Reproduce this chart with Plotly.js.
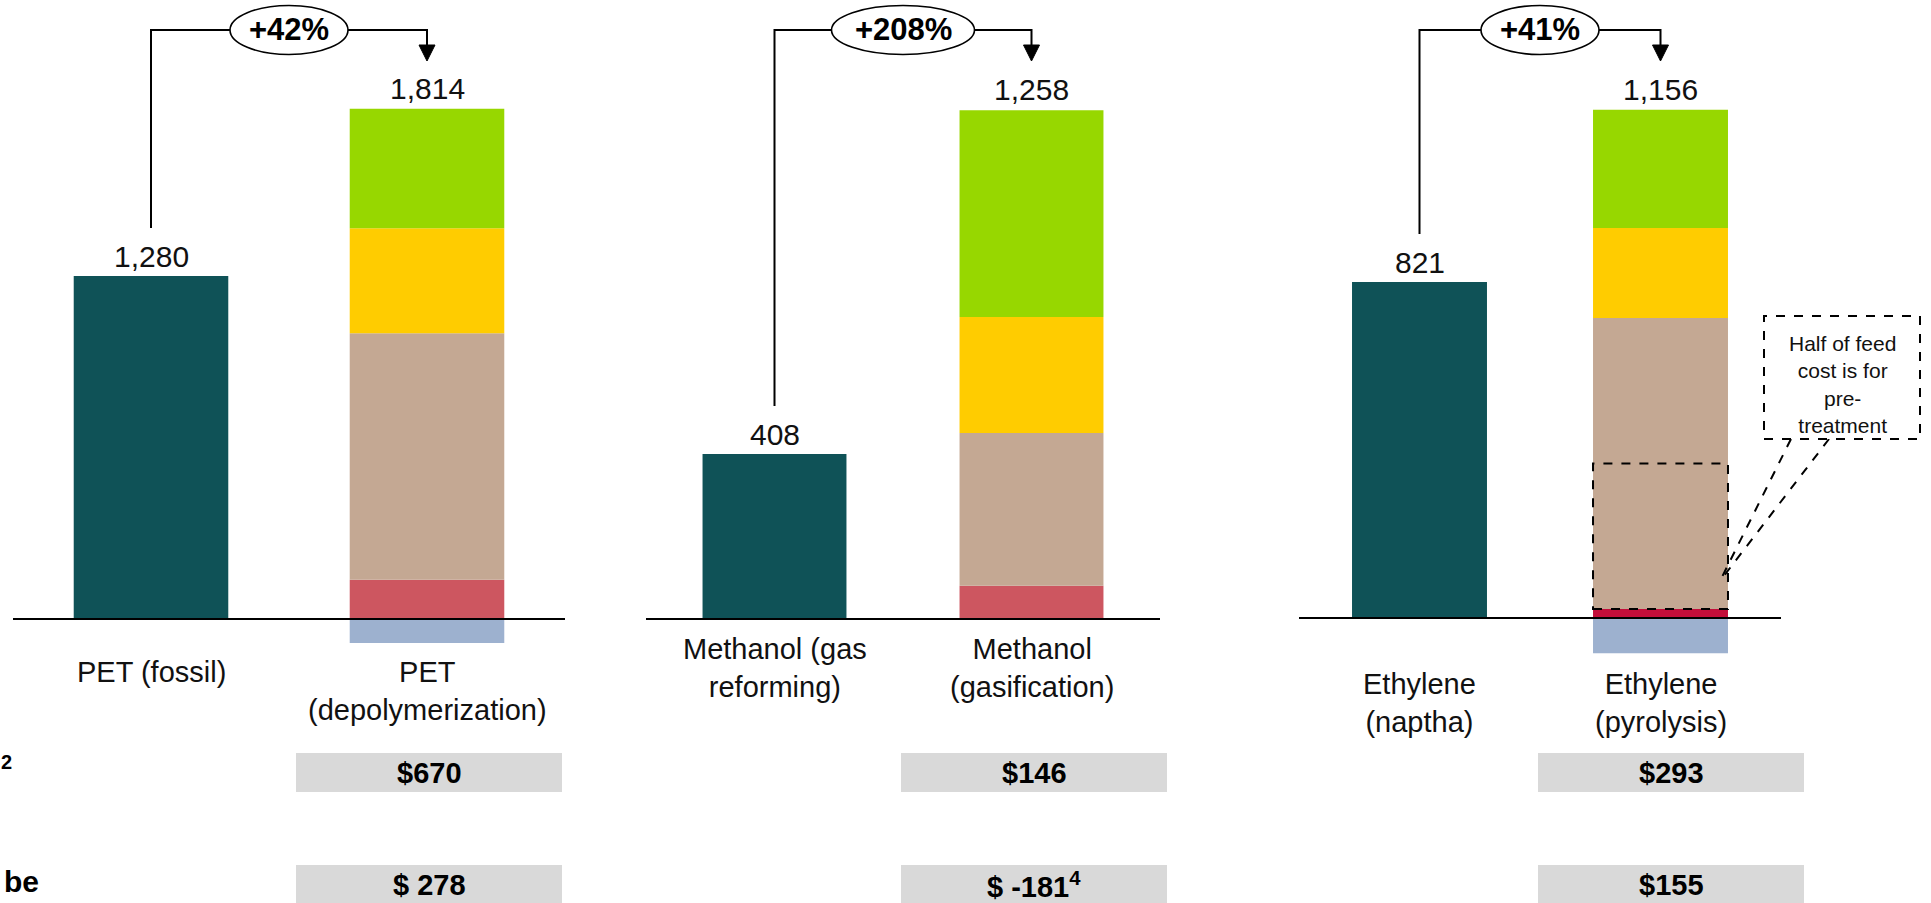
<!DOCTYPE html>
<html>
<head>
<meta charset="utf-8">
<script src="https://cdn.plot.ly/plotly-3.0.1.min.js"></script>
<style>
  html, body { margin: 0; padding: 0; background: #ffffff; overflow: hidden; }
  #chart { width: 1931px; height: 903px; }
</style>
</head>
<body>
<div id="chart"></div>
<script>
// ---------------- DATA ----------------
const categories = [
  ["PET (fossil)", "PET (depolymerization)"],
  ["Methanol (gas reforming)", "Methanol (gasification)"],
  ["Ethylene (naptha)", "Ethylene (pyrolysis)"]
];
const categoryLabels = [
  ["PET (fossil)", "PET<br>(depolymerization)"],
  ["Methanol (gas<br>reforming)", "Methanol<br>(gasification)"],
  ["Ethylene<br>(naptha)", "Ethylene<br>(pyrolysis)"]
];
const fossilCost     = [1280, 408, 821];
const recycledTotal  = [1814, 1258, 1156];
const energyCost     = [146, 82, 22];     // red (bottom)
const feedCost       = [920, 378, 711];   // tan
const opexCost       = [392, 287, 220];   // yellow
const capexCost      = [446, 511, 289];   // green (top)
const creditValue    = [-90, 0, -86];     // blue (negative)
const row1Labels = ["$670", "$146", "$293"];
const row2Labels = ["$ 278", "$ -181<sup>4</sup>", "$155"];
const calloutText = "Half of feed<br>cost is for<br>pre-<br>treatment";

// ---------------- STYLE / LAYOUT PARAMS ----------------
const W = 1931, H = 903;
const FONT = "Liberation Sans, Arial, sans-serif";
const colFossil = "#0F5257";
const colCapex = "#97D700";
const colOpex = "#FFCC00";
const colFeed = "#C4A893";
const colEnergy = ["#CD5660", "#CD5660", "#C20E3A"];
const colCredit = "#9DB1CF";
const barWidth = 0.56;

const domPx = [[13, 565], [646, 1160], [1299, 1781]];
const zeroPx = [619, 619, 618];
const pxPerUnit = [0.2680, 0.4044, 0.4092];
const plotTopPx = 100, plotBotPx = 690;
const labelFirstLinePx = [673, 650, 685];
const connectorTopPx = 30;
const boxCenterPx = [429, 1034, 1671];
const boxWidthPx = 266;
const boxRowsPx = [[753, 792], [865, 904]];

const px2x = px => px / W;
const px2y = py => 1 - py / H;
const axSuffix = p => (p === 0 ? "" : String(p + 1));
const unitPx = p => (domPx[p][1] - domPx[p][0]) / 2;
const catPx = (p, idx) => domPx[p][0] + (idx + 0.5) * unitPx(p);
const valPx = (p, v) => zeroPx[p] - v * pxPerUnit[p];

// ---------------- TRACES ----------------
const traces = [];
for (let p = 0; p < 3; p++) {
  const xa = "x" + axSuffix(p), ya = "y" + axSuffix(p);
  const base = { type: "bar", xaxis: xa, yaxis: ya, width: barWidth, showlegend: false,
                 hoverinfo: "name+y" };
  traces.push(Object.assign({}, base, { name: "Fossil route", x: [categories[p][0]], y: [fossilCost[p]],
    marker: { color: colFossil, line: { width: 0 } } }));
  traces.push(Object.assign({}, base, { name: "Energy & utilities", x: [categories[p][1]], y: [energyCost[p]],
    marker: { color: colEnergy[p], line: { width: 0 } } }));
  traces.push(Object.assign({}, base, { name: "Feed cost", x: [categories[p][1]], y: [feedCost[p]],
    marker: { color: colFeed, line: { width: 0 } } }));
  traces.push(Object.assign({}, base, { name: "Operating cost", x: [categories[p][1]], y: [opexCost[p]],
    marker: { color: colOpex, line: { width: 0 } } }));
  traces.push(Object.assign({}, base, { name: "Capital cost", x: [categories[p][1]], y: [capexCost[p]],
    marker: { color: colCapex, line: { width: 0 } } }));
  traces.push(Object.assign({}, base, { name: "By-product credit", x: [categories[p][1]], y: [creditValue[p]],
    marker: { color: colCredit, line: { width: 0 } } }));
}

// ---------------- LAYOUT ----------------
const layout = {
  width: W, height: H,
  margin: { l: 0, r: 0, t: 0, b: 0, pad: 0 },
  paper_bgcolor: "#ffffff", plot_bgcolor: "rgba(0,0,0,0)",
  barmode: "relative",
  showlegend: false,
  font: { family: FONT, color: "#000" },
  annotations: [], shapes: []
};

for (let p = 0; p < 3; p++) {
  const s = axSuffix(p);
  const k = pxPerUnit[p];
  layout["xaxis" + s] = {
    domain: [px2x(domPx[p][0]), px2x(domPx[p][1])],
    anchor: "y" + s, type: "category",
    categoryorder: "array", categoryarray: categories[p],
    range: [-0.5, 1.5], showticklabels: false, showgrid: false, zeroline: false,
    showline: false, ticks: "", fixedrange: true
  };
  layout["yaxis" + s] = {
    domain: [px2y(plotBotPx), px2y(plotTopPx)],
    anchor: "x" + s,
    range: [-(plotBotPx - zeroPx[p]) / k, (zeroPx[p] - plotTopPx) / k],
    showticklabels: false, showgrid: false, zeroline: false, showline: false, ticks: "", fixedrange: true
  };

  // baseline
  layout.shapes.push({ type: "line", xref: "x" + s + " domain", yref: "y" + s,
    x0: 0, x1: 1, y0: 0, y1: 0, line: { color: "#000", width: 2 }, layer: "above" });

  // value labels
  const stackTop = [energyCost[p], feedCost[p], opexCost[p], capexCost[p], creditValue[p]]
    .filter(v => v > 0).reduce((a, b) => a + b, 0);
  layout.annotations.push({ xref: "x" + s, yref: "y" + s, x: 0, y: fossilCost[p],
    text: fossilCost[p].toLocaleString("en-US"), showarrow: false, yanchor: "bottom", yshift: 1,
    font: { size: 30, color: "#111", family: FONT } });
  layout.annotations.push({ xref: "x" + s, yref: "y" + s, x: 1, y: stackTop,
    text: recycledTotal[p].toLocaleString("en-US"), showarrow: false, yanchor: "bottom", yshift: 2,
    font: { size: 30, color: "#111", family: FONT } });

  // category labels
  for (let i = 0; i < 2; i++) {
    layout.annotations.push({ xref: "x" + s, yref: "paper", x: i, y: px2y(labelFirstLinePx[p] - 19),
      text: categoryLabels[p][i], showarrow: false, yanchor: "top", align: "center",
      font: { size: 29, color: "#111", family: FONT } });
  }

  // growth connector
  const x0 = catPx(p, 0), x1 = catPx(p, 1), xm = (x0 + x1) / 2;
  const pct = Math.round((recycledTotal[p] / fossilCost[p] - 1) * 100);
  const pctText = "+" + pct + "%";
  const rx = 9 + 12.5 * pctText.length, ry = 24.5;
  const yT = connectorTopPx;
  const lineStyle = { color: "#000", width: 2 };
  layout.shapes.push({ type: "path", xref: "paper", yref: "paper",
    path: `M ${px2x(x0)} ${px2y(valPx(p, fossilCost[p]) - 48)} L ${px2x(x0)} ${px2y(yT)} L ${px2x(xm - rx)} ${px2y(yT)}`,
    line: lineStyle });
  layout.shapes.push({ type: "path", xref: "paper", yref: "paper",
    path: `M ${px2x(xm + rx)} ${px2y(yT)} L ${px2x(x1)} ${px2y(yT)} L ${px2x(x1)} ${px2y(46)}`,
    line: lineStyle });
  layout.shapes.push({ type: "path", xref: "paper", yref: "paper",
    path: `M ${px2x(x1 - 8)} ${px2y(45)} L ${px2x(x1 + 8)} ${px2y(45)} L ${px2x(x1)} ${px2y(61)} Z`,
    fillcolor: "#000", line: { color: "#000", width: 1 } });
  layout.shapes.push({ type: "circle", xref: "paper", yref: "paper",
    x0: px2x(xm - rx), x1: px2x(xm + rx), y0: px2y(yT + ry), y1: px2y(yT - ry),
    fillcolor: "#fff", line: { color: "#000", width: 1.6 } });
  layout.annotations.push({ xref: "paper", yref: "paper", x: px2x(xm), y: px2y(yT),
    text: "<b>" + pctText + "</b>", showarrow: false, xanchor: "center", yanchor: "middle",
    font: { size: 31, color: "#000", family: FONT } });

  // gray value boxes
  const bl = boxCenterPx[p] - boxWidthPx / 2, br = boxCenterPx[p] + boxWidthPx / 2;
  const rowLabels = [row1Labels[p], row2Labels[p]];
  for (let r = 0; r < 2; r++) {
    layout.shapes.push({ type: "rect", xref: "paper", yref: "paper", layer: "below",
      x0: px2x(bl), x1: px2x(br), y0: px2y(boxRowsPx[r][1]), y1: px2y(boxRowsPx[r][0]),
      fillcolor: "#D9D9D9", line: { width: 0 } });
    layout.annotations.push({ xref: "paper", yref: "paper", x: px2x(boxCenterPx[p]),
      y: px2y((boxRowsPx[r][0] + boxRowsPx[r][1]) / 2), text: "<b>" + rowLabels[r] + "</b>",
      showarrow: false, xanchor: "center", yanchor: "middle",
      font: { size: 29, color: "#000", family: FONT } });
  }
}

// pre-treatment highlight (half of feed cost) in ethylene pyrolysis bar
layout.shapes.push({ type: "rect", xref: "x3", yref: "y3",
  x0: 1 - barWidth / 2, x1: 1 + barWidth / 2,
  y0: energyCost[2], y1: energyCost[2] + feedCost[2] / 2,
  line: { color: "#000", width: 2, dash: "dash" }, fillcolor: "rgba(0,0,0,0)", layer: "above" });

// callout
const cb = { l: 1764, r: 1920, t: 316, b: 439 };
const tip = { x: 1720, y: 581 };
layout.shapes.push({ type: "line", xref: "paper", yref: "paper",
  x0: px2x(1791), y0: px2y(cb.b), x1: px2x(tip.x), y1: px2y(tip.y),
  line: { color: "#000", width: 2, dash: "dash" } });
layout.shapes.push({ type: "line", xref: "paper", yref: "paper",
  x0: px2x(1829), y0: px2y(cb.b), x1: px2x(tip.x), y1: px2y(tip.y),
  line: { color: "#000", width: 2, dash: "dash" } });
layout.shapes.push({ type: "rect", xref: "paper", yref: "paper",
  x0: px2x(cb.l), x1: px2x(cb.r), y0: px2y(cb.b), y1: px2y(cb.t),
  fillcolor: "#fff", line: { color: "#000", width: 2, dash: "dash" } });
layout.annotations.push({ xref: "paper", yref: "paper", x: px2x((cb.l + cb.r) / 2),
  y: px2y(384), text: calloutText, showarrow: false, xanchor: "center", yanchor: "middle",
  align: "center", font: { size: 21, color: "#111", family: FONT } });

// cut-off row labels at the left edge
layout.annotations.push({ xref: "paper", yref: "paper", x: px2x(14), y: px2y(762),
  text: "<b>2</b>", showarrow: false, xanchor: "right", yanchor: "middle",
  font: { size: 20, color: "#000", family: FONT } });
layout.annotations.push({ xref: "paper", yref: "paper", x: px2x(41), y: px2y(881),
  text: "<b>be</b>", showarrow: false, xanchor: "right", yanchor: "middle",
  font: { size: 30, color: "#000", family: FONT } });

Plotly.newPlot("chart", traces, layout, { staticPlot: true, displayModeBar: false });
</script>
</body>
</html>
